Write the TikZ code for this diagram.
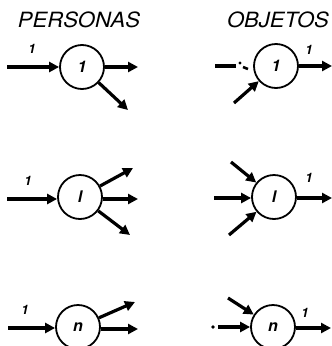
\documentclass[tikz,border=0pt]{standalone}
\usepackage{fontspec}
\setmainfont{TeX Gyre Heros}
\usetikzlibrary{arrows.meta}
\tikzset{
  flow/.style={line width=3.2pt, -{Triangle[length=10pt,width=10pt]}},
  plain/.style={line width=3.2pt},
  unit/.style={circle, draw, line width=1.8pt, minimum size=44pt, inner sep=0pt,
    font=\fontsize{16}{16}\selectfont\itshape\bfseries},
  lbl/.style={font=\fontsize{13}{13}\selectfont\itshape\bfseries, inner sep=0pt},
  title/.style={font=\fontsize{21}{21}\selectfont\itshape, xscale=1.05, transform shape, inner sep=0pt}
}
\begin{document}
\begin{tikzpicture}[x=1pt,y=-1pt]
\useasboundingbox (0,0) rectangle (332,346);
\clip (0,0) rectangle (332,346);

% column headings
\node[title] (tp) at (79,20) {PERSONAS};
\node[title] (to) at (278,20) {OBJETOS};

% ---- people ----
\node[unit] (a1) at (82,67) {1};
\node[unit] (a2) at (80,197) {l};
\node[unit] (a3) at (78,327) {n};

\coordinate (a1in) at (7,67);
\coordinate (a1o1) at (138,67);
\coordinate (a1o2) at (128,110);
\draw[flow] (a1in) -- (a1);
\draw[flow] (a1) -- (a1o1);
\draw[flow] (a1) -- (a1o2);
\node[lbl] (a1l) at (32,49) {1};

\coordinate (a2in) at (7,199);
\coordinate (a2o1) at (133,168);
\coordinate (a2o2) at (138,199);
\coordinate (a2o3) at (130,235);
\draw[flow] (a2in) -- (a2.west |- a2in);
\draw[flow] (a2) -- (a2o1);
\draw[flow] (a2.east |- a2o2) -- (a2o2);
\draw[flow] (a2) -- (a2o3);
\node[lbl] (a2l) at (28,181) {1};

\coordinate (a3in) at (8,328);
\coordinate (a3o1) at (135,302);
\coordinate (a3o2) at (138,329);
\draw[flow] (a3in) -- (a3.west |- a3in);
\draw[flow] (a3) -- (a3o1);
\draw[flow] (a3.east |- a3o2) -- (a3o2);
\node[lbl] (a3l) at (25,310) {1};

% ---- objects ----
\node[unit] (b1) at (276,66) {1};
\node[unit] (b2) at (274,197) {l};
\node[unit] (b3) at (273,327) {n};

% broken input line
\coordinate (b1d1) at (215,66);
\coordinate (b1d2) at (236,66);
\coordinate (b1d3) at (243,67);
\coordinate (b1d4) at (248,69);
\draw[plain] (b1d1) -- (b1d2);
\fill (240,63) circle (1.6pt);
\draw[line width=2.6pt] (b1d3) -- (b1d4);
\coordinate (b1in) at (234,103);
\coordinate (b1out) at (332,66);
\draw[flow] (b1in) -- (b1);
\draw[flow] (b1) -- (b1out);
\node[lbl] (b1l) at (309,50) {1};

\coordinate (b2i1) at (231,162);
\coordinate (b2i2) at (214,198);
\coordinate (b2i3) at (229,235);
\coordinate (b2out) at (332,198);
\draw[flow] (b2i1) -- (b2);
\draw[flow] (b2i2) -- (b2.west |- b2i2);
\draw[flow] (b2i3) -- (b2);
\draw[flow] (b2.east |- b2out) -- (b2out);
\node[lbl] (b2l) at (309,178) {1};

\coordinate (b3dot) at (213,327);
\fill (b3dot) circle (1.8pt);
\coordinate (b3i1) at (218,327);
\coordinate (b3i2) at (228,298);
\coordinate (b3out) at (331,328);
\draw[flow] (b3i1) -- (b3.west |- b3i1);
\draw[flow] (b3i2) -- (b3);
\draw[flow] (b3.east |- b3out) -- (b3out);
\node[lbl] (b3l) at (305,313) {1};
\end{tikzpicture}
\end{document}
